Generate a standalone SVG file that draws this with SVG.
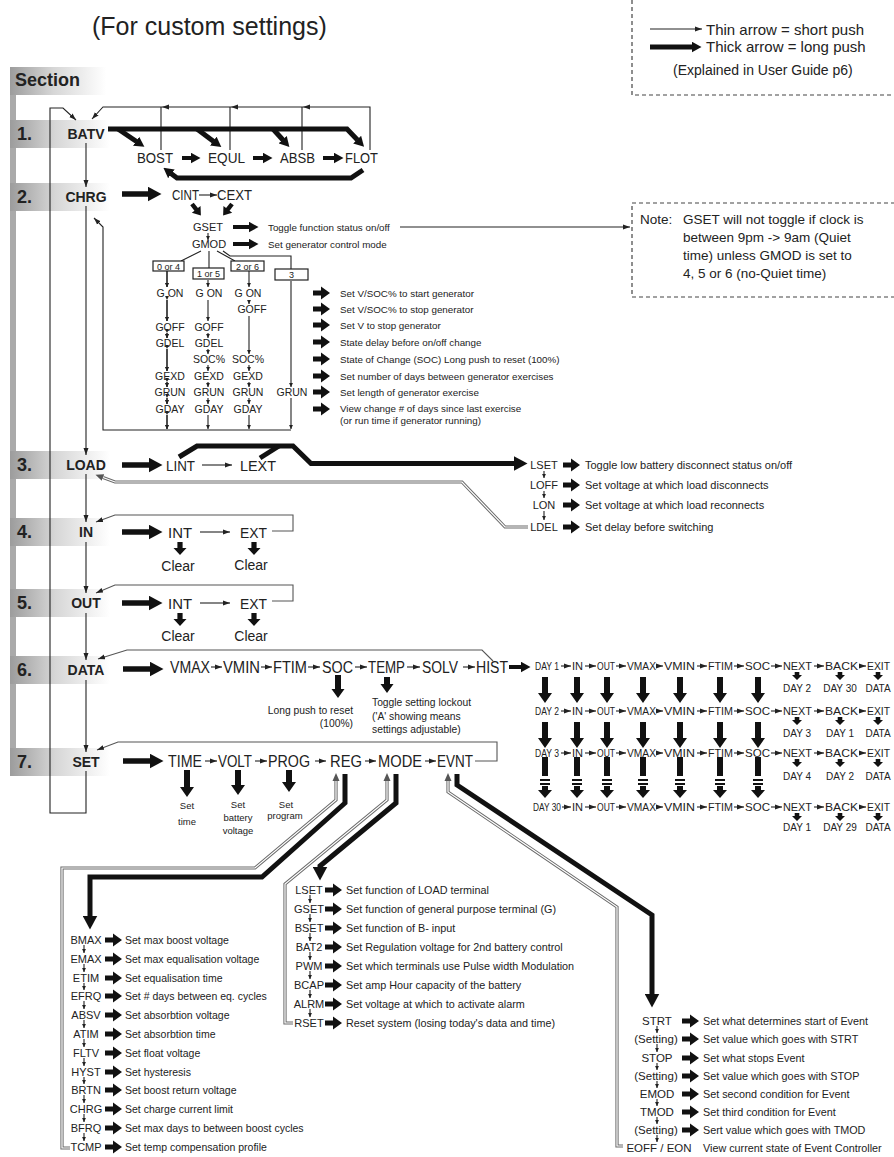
<svg xmlns="http://www.w3.org/2000/svg" width="894" height="1157" viewBox="0 0 894 1157">
<style>
text{font-family:"Liberation Sans",Arial,Helvetica,sans-serif;fill:#222}
.b{font-weight:bold}
.m{text-anchor:middle}
.e{text-anchor:end}
.ln{fill:none;stroke:#222;stroke-width:1.1}
.lg{fill:none;stroke:#555;stroke-width:1.1}
.tk{fill:none;stroke:#111;stroke-width:5.5}
.t5{fill:none;stroke:#111;stroke-width:5}
.tm{fill:none;stroke:#111;stroke-width:4}
.dO{fill:none;stroke:#6a6a6a;stroke-width:3.2}
.dI{fill:none;stroke:#fff;stroke-width:1.2}
.fa{fill:#111}
.dash{fill:none;stroke:#444;stroke-width:1.2;stroke-dasharray:4 3}
.box{fill:#fff;stroke:#222;stroke-width:1.2}
.s9{font-size:9px}.s10{font-size:9.8px}.s105{font-size:10.5px}.s11{font-size:11px}.s108{font-size:10.8px}
.w{font-size:16px}.c{font-size:11px}
</style>
<defs>
<linearGradient id="band" x1="0" y1="0" x2="1" y2="0">
<stop offset="0" stop-color="#9c9c9c"/>
<stop offset="0.45" stop-color="#d6d6d6"/>
<stop offset="1" stop-color="#ffffff"/>
</linearGradient>
<marker id="a" markerUnits="userSpaceOnUse" markerWidth="8" markerHeight="6" refX="7" refY="3" orient="auto" viewBox="0 0 8 6"><path d="M0,0.5 L7,3 L0,5.5 z" fill="#222"/></marker>
<marker id="t" markerUnits="userSpaceOnUse" markerWidth="5" markerHeight="5" refX="4.5" refY="2.5" orient="auto" viewBox="0 0 5 5"><path d="M0,0.3 L4.5,2.5 L0,4.7 z" fill="#222"/></marker>
<marker id="g" markerUnits="userSpaceOnUse" markerWidth="9" markerHeight="8" refX="0" refY="4" orient="auto" viewBox="0 0 9 8"><path d="M0,0.5 L8,4 L0,7.5 z" fill="#555"/></marker>
<marker id="H" markerUnits="userSpaceOnUse" markerWidth="14" markerHeight="15" refX="0.5" refY="7.5" orient="auto" viewBox="0 0 14 15"><path d="M0,0 L14,7.5 L0,15 z" fill="#111"/></marker>
<marker id="M" markerUnits="userSpaceOnUse" markerWidth="10" markerHeight="11" refX="0.5" refY="5.5" orient="auto" viewBox="0 0 10 11"><path d="M0,0 L10,5.5 L0,11 z" fill="#111"/></marker>
<path id="fa" d="M0,-2.6 H8 V-6.5 L17,0 L8,6.5 V2.6 H0 Z"/>
<path id="fd" d="M-2.3,0 H2.3 V3 H5 L0,8 L-5,3 H-2.3 Z"/>
<path id="fc" d="M-2.6,0 H2.6 V6 H6.5 L0,13 L-6.5,6 H-2.6 Z"/>
<path id="ft" d="M-3,0 H3 V16 H7 L0,26 L-7,16 H-3 Z"/>
</defs>

<g id="bg">
<rect x="10" y="67" width="6" height="708" fill="#aaa"/>
<rect x="10" y="67" width="96" height="28" fill="url(#band)"/>
<rect x="10" y="120" width="100" height="28" fill="url(#band)"/>
<rect x="10" y="183" width="100" height="28" fill="url(#band)"/>
<rect x="10" y="451" width="100" height="28" fill="url(#band)"/>
<rect x="10" y="518" width="100" height="28" fill="url(#band)"/>
<rect x="10" y="589" width="100" height="28" fill="url(#band)"/>
<rect x="10" y="656" width="100" height="28" fill="url(#band)"/>
<rect x="10" y="748" width="100" height="28" fill="url(#band)"/>
<text x="15" y="86" class="b" font-size="18">Section</text>
</g>

<g id="title">
<text x="92" y="35" font-size="25">(For custom settings)</text>
</g>

<g id="legend">
<path class="dash" d="M632,0 V95 H894"/>
<path class="ln" d="M650,29 H702" marker-end="url(#a)"/>
<path class="t5" d="M650,47 H692" marker-end="url(#M)"/>
<text x="706" y="35" font-size="15">Thin arrow = short push</text>
<text x="706" y="52" font-size="15">Thick arrow = long push</text>
<text x="673" y="75" font-size="14">(Explained in User Guide p6)</text>
</g>

<g id="connectors">
<!-- main spine -->
<path class="ln" d="M86,143 V187" marker-end="url(#a)"/>
<path class="ln" d="M86,206 V455" marker-end="url(#a)"/>
<path class="ln" d="M86,474 V522" marker-end="url(#a)"/>
<path class="ln" d="M86,542 V593" marker-end="url(#a)"/>
<path class="ln" d="M86,613 V660" marker-end="url(#a)"/>
<path class="ln" d="M86,680 V752" marker-end="url(#a)"/>
<path class="ln" d="M86,771 V813 H50 V108 H63 L76,120" marker-end="url(#a)"/>
<!-- BATV -->
<path class="ln" d="M370,150 V107 H103 L92,119" marker-end="url(#a)"/>
<path class="ln" d="M161,150 V107 M230,150 V107 M302,150 V107"/>
<polygon points="162,107 169,104.4 169,109.6" fill="#222"/>
<polygon points="231,107 238,104.4 238,109.6" fill="#222"/>
<polygon points="303,107 310,104.4 310,109.6" fill="#222"/>
<path class="t5" d="M108,129 H347 L357.5,140" marker-end="url(#M)"/>
<path class="t5" d="M118,129 L136.5,141.5" marker-end="url(#M)"/>
<path class="t5" d="M197,129 L213.7,141.4" marker-end="url(#M)"/>
<path class="t5" d="M273,129 L283,140" marker-end="url(#M)"/>
<path class="tm" d="M182,158 H191" marker-end="url(#M)"/>
<path class="tm" d="M253,158 H263" marker-end="url(#M)"/>
<path class="tm" d="M323,158 H334" marker-end="url(#M)"/>
<path class="t5" d="M363,170 L351,178 H177 L171,173.5" marker-end="url(#M)"/>
<!-- CHRG -->
<path class="tk" d="M122,194 H148" marker-end="url(#H)"/>
<path class="ln" d="M199,195 H217" marker-end="url(#a)"/>
<use href="#fa" class="fa" transform="translate(192,204) rotate(52) scale(0.85)"/>
<use href="#fa" class="fa" transform="translate(232,204) rotate(128) scale(0.85)"/>
<path class="ln" d="M208,233 V240" marker-end="url(#t)"/>
<path class="tm" d="M233,227 H249" marker-end="url(#M)"/>
<path class="tm" d="M233,244 H249" marker-end="url(#M)"/>
<path class="ln" d="M400,227 H630" marker-end="url(#a)"/>
<path class="ln" d="M201,251 L181,261 M209,251 V268 M217,251 L235,261 M223,251 L230,256 H291 V269"/>
<path class="ln" d="M167,271 V287 M167,300 V321 M167,333 V338 M167,349 V371 M167,382 V387 M167,398 V404 M167,415 V429" marker-end="url(#t)" marker-mid="url(#t)"/>
<g class="ln" marker-end="url(#t)">
<path d="M167,271 V287"/><path d="M167,300 V321"/><path d="M167,333 V338"/><path d="M167,349 V371"/><path d="M167,382 V387"/><path d="M167,398 V404"/><path d="M167,415 V429"/>
<path d="M208,280 V287"/><path d="M208,300 V321"/><path d="M208,333 V338"/><path d="M208,349 V354"/><path d="M208,365 V371"/><path d="M208,382 V387"/><path d="M208,398 V404"/><path d="M208,415 V429"/>
<path d="M249,271 V287"/><path d="M249,300 V304"/><path d="M249,316 V354"/><path d="M249,365 V371"/><path d="M249,382 V387"/><path d="M249,398 V404"/><path d="M249,415 V429"/>
<path d="M291,281 V387"/><path d="M291,398 V429"/>
</g>
<path class="ln" d="M291,430 H103 V227 L94,218" marker-end="url(#a)"/>
<g class="fa">
<use href="#fa" x="313" y="293"/><use href="#fa" x="313" y="309"/><use href="#fa" x="313" y="325"/><use href="#fa" x="313" y="342"/>
<use href="#fa" x="313" y="359"/><use href="#fa" x="313" y="376"/><use href="#fa" x="313" y="392"/><use href="#fa" x="313" y="409"/>
</g>
<!-- LOAD -->
<path class="tk" d="M122,465 H149" marker-end="url(#H)"/>
<path class="ln" d="M202,465 H232" marker-end="url(#a)"/>
<path class="t5" d="M179,457 L197,446 H293 L311,463.5 H514" marker-end="url(#H)"/>
<path class="t5" d="M260,458 L279,446"/>
<g class="ln" marker-end="url(#t)"><path d="M544,471 V478"/><path d="M544,491 V498"/><path d="M544,511 V520"/></g>
<g class="fa"><use href="#fa" x="563" y="465"/><use href="#fa" x="563" y="485"/><use href="#fa" x="563" y="505"/><use href="#fa" x="563" y="527"/></g>
<path class="dO" d="M528,527 H505 L462,482 H115 L103,477.5" marker-end="url(#g)"/>
<path class="dI" d="M528,527 H505 L462,482 H115 L103,477.5"/>
<!-- IN -->
<path class="tk" d="M122,532 H149" marker-end="url(#H)"/>
<path class="ln" d="M200,532 H230" marker-end="url(#a)"/>
<path class="lg" d="M272,531 H293 V515 H115 L96,522" marker-end="url(#a)"/>
<use href="#fc" class="fa" x="180" y="542"/><use href="#fc" class="fa" x="254" y="542"/>
<!-- OUT -->
<path class="tk" d="M122,603 H149" marker-end="url(#H)"/>
<path class="ln" d="M200,603 H230" marker-end="url(#a)"/>
<path class="lg" d="M272,601 H293 V585 H115 L96,593" marker-end="url(#a)"/>
<use href="#fc" class="fa" x="180" y="613"/><use href="#fc" class="fa" x="254" y="613"/>
<!-- DATA -->
<path class="tk" d="M123,669 H150" marker-end="url(#H)"/>
<g class="ln" marker-end="url(#a)">
<path d="M211,667 H222"/><path d="M261,667 H272"/><path d="M308,667 H320"/><path d="M355,667 H367"/><path d="M407,667 H420"/><path d="M463,667 H475"/>
</g>
<path class="tm" d="M509,667 H521" marker-end="url(#M)"/>
<path class="lg" d="M493,661 L482,650 H127 L98,659" marker-end="url(#a)"/>
<path class="fa" d="M335,675 H341 V689 H344.5 L338,698 L331.5,689 H335 Z"/>
<path class="fa" d="M384,677 H390 V684 H393.5 L387,693 L380.5,684 H384 Z"/>
<!-- DATA table -->
<g class="ln" marker-end="url(#a)">
<path d="M561,666 H571"/><path d="M585,666 H596"/><path d="M616,666 H626"/><path d="M656,666 H663"/><path d="M697,666 H707"/><path d="M734,666 H744"/><path d="M771,666 H782"/><path d="M814,666 H824"/><path d="M859,666 H866"/>
<path d="M561,711 H571"/><path d="M585,711 H596"/><path d="M616,711 H626"/><path d="M656,711 H663"/><path d="M697,711 H707"/><path d="M734,711 H744"/><path d="M771,711 H782"/><path d="M814,711 H824"/><path d="M859,711 H866"/>
<path d="M561,753 H571"/><path d="M585,753 H596"/><path d="M616,753 H626"/><path d="M656,753 H663"/><path d="M697,753 H707"/><path d="M734,753 H744"/><path d="M771,753 H782"/><path d="M814,753 H824"/><path d="M859,753 H866"/>
<path d="M562,807 H571"/><path d="M585,807 H596"/><path d="M616,807 H626"/><path d="M656,807 H663"/><path d="M697,807 H707"/><path d="M734,807 H744"/><path d="M771,807 H782"/><path d="M814,807 H824"/><path d="M859,807 H866"/>
</g>
<g class="fa">
<use href="#fd" x="797" y="672"/><use href="#fd" x="840" y="672"/><use href="#fd" x="878" y="672"/>
<use href="#fd" x="797" y="717"/><use href="#fd" x="840" y="717"/><use href="#fd" x="878" y="717"/>
<use href="#fd" x="797" y="759"/><use href="#fd" x="840" y="759"/><use href="#fd" x="878" y="759"/>
<use href="#fd" x="797" y="813"/><use href="#fd" x="840" y="813"/><use href="#fd" x="878" y="813"/>
<use href="#ft" x="545" y="677"/><use href="#ft" x="577" y="677"/><use href="#ft" x="607" y="677"/><use href="#ft" x="643" y="677"/><use href="#ft" x="680" y="677"/><use href="#ft" x="720" y="677"/><use href="#ft" x="758" y="677"/>
<use href="#ft" x="545" y="722"/><use href="#ft" x="577" y="722"/><use href="#ft" x="607" y="722"/><use href="#ft" x="643" y="722"/><use href="#ft" x="680" y="722"/><use href="#ft" x="720" y="722"/><use href="#ft" x="758" y="722"/>
</g>
<g class="fa" id="ellipsis-arrows">
<path d="M542,757 h6 v19 h-6 Z M540,779 h10 v2 h-10 Z M540,783 h10 v2 h-10 Z M542,786 h6 v4 h4 l-7,8 l-7,-8 h4 Z"/>
<path d="M574,757 h6 v19 h-6 Z M572,779 h10 v2 h-10 Z M572,783 h10 v2 h-10 Z M574,786 h6 v4 h4 l-7,8 l-7,-8 h4 Z"/>
<path d="M604,757 h6 v19 h-6 Z M602,779 h10 v2 h-10 Z M602,783 h10 v2 h-10 Z M604,786 h6 v4 h4 l-7,8 l-7,-8 h4 Z"/>
<path d="M640,757 h6 v19 h-6 Z M638,779 h10 v2 h-10 Z M638,783 h10 v2 h-10 Z M640,786 h6 v4 h4 l-7,8 l-7,-8 h4 Z"/>
<path d="M677,757 h6 v19 h-6 Z M675,779 h10 v2 h-10 Z M675,783 h10 v2 h-10 Z M677,786 h6 v4 h4 l-7,8 l-7,-8 h4 Z"/>
<path d="M717,757 h6 v19 h-6 Z M715,779 h10 v2 h-10 Z M715,783 h10 v2 h-10 Z M717,786 h6 v4 h4 l-7,8 l-7,-8 h4 Z"/>
<path d="M755,757 h6 v19 h-6 Z M753,779 h10 v2 h-10 Z M753,783 h10 v2 h-10 Z M755,786 h6 v4 h4 l-7,8 l-7,-8 h4 Z"/>
</g>
<!-- SET -->
<path class="tk" d="M123,761 H150" marker-end="url(#H)"/>
<g class="ln" marker-end="url(#a)">
<path d="M205,761 H217"/><path d="M255,761 H267"/><path d="M315,761 H326"/><path d="M365,761 H376"/><path d="M425,761 H436"/>
</g>
<path class="lg" d="M475,761 H497 V742 H118 L97,750" marker-end="url(#a)"/>
<path class="fa" d="M184,770 H190 V787 H194 L187,797 L180,787 H184 Z"/>
<path class="fa" d="M235,770 H241 V785 H245 L238,795 L231,785 H235 Z"/>
<path class="fa" d="M286,770 H292 V782 H296 L289,792 L282,782 H286 Z"/>
<!-- REG / MODE / EVNT branches -->
<path class="dO" d="M70,1148 H62 V868 H255 L336,800 V781" marker-end="url(#g)"/>
<path class="dI" d="M70,1148 H62 V868 H255 L336,800 V781"/>
<path class="t5" d="M345,774 V803 L262,877 H90 V916" marker-end="url(#H)"/>
<path class="dO" d="M293,1023 H285 V884 L387,800 V781" marker-end="url(#g)"/>
<path class="dI" d="M293,1023 H285 V884 L387,800 V781"/>
<path class="t5" d="M396,774 V803 L320,866 V867" marker-end="url(#H)"/>
<path class="dO" d="M623,1146 H617 V907 L448,792 V781" marker-end="url(#g)"/>
<path class="dI" d="M623,1146 H617 V907 L448,792 V781"/>
<path class="t5" d="M457,774 V785 L652,915 V994" marker-end="url(#H)"/>
<!-- REG list arrows -->
<g class="ln" marker-end="url(#t)">
<path d="M84,945 V953"/><path d="M84,964 V972"/><path d="M84,983 V990"/><path d="M84,1001 V1009"/><path d="M84,1020 V1028"/><path d="M84,1039 V1047"/><path d="M84,1058 V1066"/><path d="M84,1077 V1084"/><path d="M84,1095 V1103"/><path d="M84,1114 V1122"/><path d="M84,1133 V1141"/>
</g>
<g class="fa">
<use href="#fa" x="105" y="940"/><use href="#fa" x="105" y="959"/><use href="#fa" x="105" y="978"/><use href="#fa" x="105" y="996"/><use href="#fa" x="105" y="1015"/><use href="#fa" x="105" y="1034"/><use href="#fa" x="105" y="1053"/><use href="#fa" x="105" y="1072"/><use href="#fa" x="105" y="1090"/><use href="#fa" x="105" y="1109"/><use href="#fa" x="105" y="1128"/><use href="#fa" x="105" y="1147"/>
</g>
<!-- MODE list arrows -->
<g class="ln" marker-end="url(#t)">
<path d="M310,895 V903"/><path d="M310,914 V922"/><path d="M310,933 V941"/><path d="M310,952 V960"/><path d="M310,971 V979"/><path d="M310,990 V998"/><path d="M310,1009 V1017"/>
</g>
<g class="fa">
<use href="#fa" x="325" y="890"/><use href="#fa" x="325" y="909"/><use href="#fa" x="325" y="928"/><use href="#fa" x="325" y="947"/><use href="#fa" x="325" y="966"/><use href="#fa" x="325" y="985"/><use href="#fa" x="325" y="1004"/><use href="#fa" x="325" y="1023"/>
</g>
<!-- EVNT list arrows -->
<g class="ln" marker-end="url(#t)">
<path d="M657,1026 V1033"/><path d="M657,1044 V1052"/><path d="M657,1063 V1070"/><path d="M657,1081 V1088"/><path d="M657,1099 V1106"/><path d="M657,1117 V1124"/><path d="M657,1135 V1142"/>
</g>
<g class="fa">
<use href="#fa" x="682" y="1021"/><use href="#fa" x="682" y="1039"/><use href="#fa" x="682" y="1058"/><use href="#fa" x="682" y="1076"/><use href="#fa" x="682" y="1094"/><use href="#fa" x="682" y="1112"/><use href="#fa" x="682" y="1130"/>
</g>
</g>

<g id="n-batv">
<text x="17" y="140" class="b" font-size="18">1.</text>
<text x="86" y="139" class="b m" font-size="14">BATV</text>
<text x="137" y="163" font-size="15" textLength="36" lengthAdjust="spacingAndGlyphs">BOST</text>
<text x="208" y="163" font-size="15" textLength="37" lengthAdjust="spacingAndGlyphs">EQUL</text>
<text x="280" y="163" font-size="15" textLength="35" lengthAdjust="spacingAndGlyphs">ABSB</text>
<text x="345" y="163" font-size="15" textLength="33" lengthAdjust="spacingAndGlyphs">FLOT</text>
</g>

<g id="n-chrg">
<text x="17" y="203" class="b" font-size="18">2.</text>
<text x="86" y="202" class="b m" font-size="14">CHRG</text>
<text x="172" y="200" font-size="15" textLength="27" lengthAdjust="spacingAndGlyphs">CINT</text>
<text x="217" y="200" font-size="15" textLength="35" lengthAdjust="spacingAndGlyphs">CEXT</text>
<text x="208" y="231" class="m s11">GSET</text>
<text x="209" y="248" class="m s11">GMOD</text>
<text x="268" y="230.5" class="s10">Toggle function status on/off</text>
<text x="268" y="247.5" class="s10">Set generator control mode</text>
<rect class="box" x="153" y="261" width="31" height="10"/>
<rect class="box" x="193" y="268" width="31" height="11"/>
<rect class="box" x="231" y="261" width="33" height="10"/>
<rect class="box" x="275" y="269" width="33" height="11"/>
<text x="168.5" y="269.5" class="m s9">0 or 4</text>
<text x="208.5" y="277" class="m s9">1 or 5</text>
<text x="247.5" y="269.5" class="m s9">2 or 6</text>
<text x="291.5" y="278" class="m s9">3</text>
<g class="s105">
<text x="170" y="297" class="m">G ON</text><text x="170" y="331" class="m">GOFF</text><text x="170" y="347" class="m">GDEL</text><text x="170" y="380" class="m">GEXD</text><text x="170" y="396" class="m">GRUN</text><text x="170" y="413" class="m">GDAY</text>
<text x="209" y="297" class="m">G ON</text><text x="209" y="331" class="m">GOFF</text><text x="209" y="347" class="m">GDEL</text><text x="209" y="363" class="m">SOC%</text><text x="209" y="380" class="m">GEXD</text><text x="209" y="396" class="m">GRUN</text><text x="209" y="413" class="m">GDAY</text>
<text x="248" y="297" class="m">G ON</text><text x="252" y="313" class="m">GOFF</text><text x="248" y="363" class="m">SOC%</text><text x="248" y="380" class="m">GEXD</text><text x="248" y="396" class="m">GRUN</text><text x="248" y="413" class="m">GDAY</text>
<text x="292" y="396" class="m">GRUN</text>
</g>
<g class="s10">
<text x="340" y="296.5">Set V/SOC% to start generator</text>
<text x="340" y="312.5">Set V/SOC% to stop generator</text>
<text x="340" y="328.5">Set V to stop generator</text>
<text x="340" y="345.5">State delay before on/off change</text>
<text x="340" y="362.5">State of Change (SOC) Long push to reset (100%)</text>
<text x="340" y="379.5">Set number of days between generator exercises</text>
<text x="340" y="395.5">Set length of generator exercise</text>
<text x="340" y="412">View change # of days since last exercise</text>
<text x="340" y="424">(or run time if generator running)</text>
</g>
</g>

<g id="n-note">
<rect class="dash" x="632" y="203" width="270" height="94"/>
<text x="640" y="224" font-size="13.5">Note:</text>
<text x="683" y="224" font-size="13.5">GSET will not toggle if clock is</text>
<text x="683" y="242" font-size="13.5">between 9pm -&gt; 9am (Quiet</text>
<text x="683" y="260" font-size="13.5">time) unless GMOD is set to</text>
<text x="683" y="278" font-size="13.5">4, 5 or 6 (no-Quiet time)</text>
</g>

<g id="n-load">
<text x="17" y="471" class="b" font-size="18">3.</text>
<text x="86" y="470" class="b m" font-size="14">LOAD</text>
<text x="166" y="471" font-size="15" textLength="29" lengthAdjust="spacingAndGlyphs">LINT</text>
<text x="240" y="471" font-size="15" textLength="36" lengthAdjust="spacingAndGlyphs">LEXT</text>
<g class="s11">
<text x="544" y="469" class="m">LSET</text><text x="544" y="489" class="m">LOFF</text><text x="544" y="509" class="m">LON</text><text x="544" y="531" class="m">LDEL</text>
<text x="585" y="469">Toggle low battery disconnect status on/off</text>
<text x="585" y="489">Set voltage at which load disconnects</text>
<text x="585" y="509">Set voltage at which load reconnects</text>
<text x="585" y="531">Set delay before switching</text>
</g>
</g>

<g id="n-in">
<text x="17" y="538" class="b" font-size="18">4.</text>
<text x="86" y="537" class="b m" font-size="14">IN</text>
<text x="168" y="538" font-size="15" textLength="24" lengthAdjust="spacingAndGlyphs">INT</text>
<text x="240" y="538" font-size="15" textLength="27" lengthAdjust="spacingAndGlyphs">EXT</text>
<text x="178" y="571" class="m" font-size="14">Clear</text>
<text x="251" y="570" class="m" font-size="14">Clear</text>
</g>

<g id="n-out">
<text x="17" y="609" class="b" font-size="18">5.</text>
<text x="86" y="608" class="b m" font-size="14">OUT</text>
<text x="168" y="609" font-size="15" textLength="24" lengthAdjust="spacingAndGlyphs">INT</text>
<text x="240" y="609" font-size="15" textLength="27" lengthAdjust="spacingAndGlyphs">EXT</text>
<text x="178" y="641" class="m" font-size="14">Clear</text>
<text x="251" y="641" class="m" font-size="14">Clear</text>
</g>

<g id="n-data">
<text x="17" y="676" class="b" font-size="18">6.</text>
<text x="86" y="675" class="b m" font-size="14">DATA</text>
<g class="w">
<text x="170" y="673" textLength="40" lengthAdjust="spacingAndGlyphs">VMAX</text>
<text x="223" y="673" textLength="37" lengthAdjust="spacingAndGlyphs">VMIN</text>
<text x="273" y="673" textLength="34" lengthAdjust="spacingAndGlyphs">FTIM</text>
<text x="322" y="673" textLength="31" lengthAdjust="spacingAndGlyphs">SOC</text>
<text x="368" y="673" textLength="37" lengthAdjust="spacingAndGlyphs">TEMP</text>
<text x="422" y="673" textLength="36" lengthAdjust="spacingAndGlyphs">SOLV</text>
<text x="476" y="673" textLength="32" lengthAdjust="spacingAndGlyphs">HIST</text>
</g>
<g font-size="10.3">
<text x="353" y="714" class="e">Long push to reset</text>
<text x="353" y="727" class="e">(100%)</text>
<text x="372" y="706">Toggle setting lockout</text>
<text x="372" y="720">('A' showing means</text>
<text x="372" y="733">settings adjustable)</text>
</g>
</g>

<g id="n-history" class="c">
<g>
<text x="535" y="670" textLength="24" lengthAdjust="spacingAndGlyphs">DAY 1</text>
<text x="535" y="715" textLength="24" lengthAdjust="spacingAndGlyphs">DAY 2</text>
<text x="535" y="757" textLength="24" lengthAdjust="spacingAndGlyphs">DAY 3</text>
<text x="533" y="811" textLength="28" lengthAdjust="spacingAndGlyphs">DAY 30</text>
</g>
<g>
<text x="572" y="670" textLength="11" lengthAdjust="spacingAndGlyphs">IN</text><text x="597" y="670" textLength="18" lengthAdjust="spacingAndGlyphs">OUT</text><text x="627" y="670" textLength="29" lengthAdjust="spacingAndGlyphs">VMAX</text><text x="664" y="670" textLength="31" lengthAdjust="spacingAndGlyphs">VMIN</text><text x="708" y="670" textLength="25" lengthAdjust="spacingAndGlyphs">FTIM</text><text x="745" y="670" textLength="25" lengthAdjust="spacingAndGlyphs">SOC</text><text x="783" y="670" textLength="29" lengthAdjust="spacingAndGlyphs">NEXT</text><text x="825" y="670" textLength="33" lengthAdjust="spacingAndGlyphs">BACK</text><text x="867" y="670" textLength="23" lengthAdjust="spacingAndGlyphs">EXIT</text>
<text x="572" y="715" textLength="11" lengthAdjust="spacingAndGlyphs">IN</text><text x="597" y="715" textLength="18" lengthAdjust="spacingAndGlyphs">OUT</text><text x="627" y="715" textLength="29" lengthAdjust="spacingAndGlyphs">VMAX</text><text x="664" y="715" textLength="31" lengthAdjust="spacingAndGlyphs">VMIN</text><text x="708" y="715" textLength="25" lengthAdjust="spacingAndGlyphs">FTIM</text><text x="745" y="715" textLength="25" lengthAdjust="spacingAndGlyphs">SOC</text><text x="783" y="715" textLength="29" lengthAdjust="spacingAndGlyphs">NEXT</text><text x="825" y="715" textLength="33" lengthAdjust="spacingAndGlyphs">BACK</text><text x="867" y="715" textLength="23" lengthAdjust="spacingAndGlyphs">EXIT</text>
<text x="572" y="757" textLength="11" lengthAdjust="spacingAndGlyphs">IN</text><text x="597" y="757" textLength="18" lengthAdjust="spacingAndGlyphs">OUT</text><text x="627" y="757" textLength="29" lengthAdjust="spacingAndGlyphs">VMAX</text><text x="664" y="757" textLength="31" lengthAdjust="spacingAndGlyphs">VMIN</text><text x="708" y="757" textLength="25" lengthAdjust="spacingAndGlyphs">FTIM</text><text x="745" y="757" textLength="25" lengthAdjust="spacingAndGlyphs">SOC</text><text x="783" y="757" textLength="29" lengthAdjust="spacingAndGlyphs">NEXT</text><text x="825" y="757" textLength="33" lengthAdjust="spacingAndGlyphs">BACK</text><text x="867" y="757" textLength="23" lengthAdjust="spacingAndGlyphs">EXIT</text>
<text x="572" y="811" textLength="11" lengthAdjust="spacingAndGlyphs">IN</text><text x="597" y="811" textLength="18" lengthAdjust="spacingAndGlyphs">OUT</text><text x="627" y="811" textLength="29" lengthAdjust="spacingAndGlyphs">VMAX</text><text x="664" y="811" textLength="31" lengthAdjust="spacingAndGlyphs">VMIN</text><text x="708" y="811" textLength="25" lengthAdjust="spacingAndGlyphs">FTIM</text><text x="745" y="811" textLength="25" lengthAdjust="spacingAndGlyphs">SOC</text><text x="783" y="811" textLength="29" lengthAdjust="spacingAndGlyphs">NEXT</text><text x="825" y="811" textLength="33" lengthAdjust="spacingAndGlyphs">BACK</text><text x="867" y="811" textLength="23" lengthAdjust="spacingAndGlyphs">EXIT</text>
</g>
<g font-size="10">
<text x="797" y="692" class="m">DAY 2</text><text x="840" y="692" class="m">DAY 30</text><text x="878" y="692" class="m">DATA</text>
<text x="797" y="737" class="m">DAY 3</text><text x="840" y="737" class="m">DAY 1</text><text x="878" y="737" class="m">DATA</text>
<text x="797" y="780" class="m">DAY 4</text><text x="840" y="780" class="m">DAY 2</text><text x="878" y="780" class="m">DATA</text>
<text x="797" y="831" class="m">DAY 1</text><text x="840" y="831" class="m">DAY 29</text><text x="878" y="831" class="m">DATA</text>
</g>
</g>

<g id="n-set">
<text x="17" y="768" class="b" font-size="18">7.</text>
<text x="86" y="767" class="b m" font-size="14">SET</text>
<g class="w">
<text x="168" y="767" textLength="34" lengthAdjust="spacingAndGlyphs">TIME</text>
<text x="218" y="767" textLength="34" lengthAdjust="spacingAndGlyphs">VOLT</text>
<text x="268" y="767" textLength="42" lengthAdjust="spacingAndGlyphs">PROG</text>
<text x="330" y="767" textLength="32" lengthAdjust="spacingAndGlyphs">REG</text>
<text x="378" y="767" textLength="44" lengthAdjust="spacingAndGlyphs">MODE</text>
<text x="437" y="767" textLength="36" lengthAdjust="spacingAndGlyphs">EVNT</text>
</g>
<g font-size="9.5">
<text x="187" y="809" class="m">Set</text><text x="187" y="825" class="m">time</text>
<text x="238" y="808" class="m">Set</text><text x="238" y="821" class="m">battery</text><text x="238" y="834" class="m">voltage</text>
<text x="286" y="808" class="m">Set</text><text x="285" y="819" class="m">program</text>
</g>
</g>

<g id="n-reg">
<g class="s11">
<text x="86" y="944" class="m">BMAX</text><text x="86" y="963" class="m">EMAX</text><text x="86" y="982" class="m">ETIM</text><text x="86" y="1000" class="m">EFRQ</text><text x="86" y="1019" class="m">ABSV</text><text x="86" y="1038" class="m">ATIM</text><text x="86" y="1057" class="m">FLTV</text><text x="86" y="1076" class="m">HYST</text><text x="86" y="1094" class="m">BRTN</text><text x="86" y="1113" class="m">CHRG</text><text x="86" y="1132" class="m">BFRQ</text><text x="86" y="1151" class="m">TCMP</text>
</g>
<g class="s105">
<text x="125" y="943.5">Set max boost voltage</text>
<text x="125" y="962.5">Set max equalisation voltage</text>
<text x="125" y="981.5">Set equalisation time</text>
<text x="125" y="999.5">Set # days between eq. cycles</text>
<text x="125" y="1018.5">Set absorbtion voltage</text>
<text x="125" y="1037.5">Set absorbtion time</text>
<text x="125" y="1056.5">Set float voltage</text>
<text x="125" y="1075.5">Set hysteresis</text>
<text x="125" y="1093.5">Set boost return voltage</text>
<text x="125" y="1112.5">Set charge current limit</text>
<text x="125" y="1131.5">Set max days to between boost cycles</text>
<text x="125" y="1150.5">Set temp compensation profile</text>
</g>
</g>

<g id="n-mode">
<g class="s11">
<text x="309" y="894" class="m">LSET</text><text x="309" y="913" class="m">GSET</text><text x="309" y="932" class="m">BSET</text><text x="309" y="951" class="m">BAT2</text><text x="309" y="970" class="m">PWM</text><text x="309" y="989" class="m">BCAP</text><text x="309" y="1008" class="m">ALRM</text><text x="309" y="1027" class="m">RSET</text>
</g>
<g class="s108">
<text x="346" y="893.5">Set function of LOAD terminal</text>
<text x="346" y="912.5">Set function of general purpose terminal (G)</text>
<text x="346" y="931.5">Set function of B- input</text>
<text x="346" y="950.5">Set Regulation voltage for 2nd battery control</text>
<text x="346" y="969.5">Set which terminals use Pulse width Modulation</text>
<text x="346" y="988.5">Set amp Hour capacity of the battery</text>
<text x="346" y="1007.5">Set voltage at which to activate alarm</text>
<text x="346" y="1026.5">Reset system (losing today's data and time)</text>
</g>
</g>

<g id="n-evnt">
<g font-size="11.5">
<text x="657" y="1025" class="m">STRT</text><text x="656" y="1043" class="m">(Setting)</text><text x="657" y="1062" class="m">STOP</text><text x="656" y="1080" class="m">(Setting)</text><text x="657" y="1098" class="m">EMOD</text><text x="657" y="1116" class="m">TMOD</text><text x="656" y="1134" class="m">(Setting)</text><text x="659" y="1152" class="m">EOFF / EON</text>
</g>
<g class="s108">
<text x="703" y="1024.5">Set what determines start of Event</text>
<text x="703" y="1042.5">Set value  which goes with STRT</text>
<text x="703" y="1061.5">Set what stops Event</text>
<text x="703" y="1079.5">Set value which goes with STOP</text>
<text x="703" y="1097.5">Set second condition for Event</text>
<text x="703" y="1115.5">Set third condition for Event</text>
<text x="703" y="1133.5">Sert value which goes with TMOD</text>
<text x="703" y="1151.5">View current state of Event Controller</text>
</g>
</g>
</svg>
